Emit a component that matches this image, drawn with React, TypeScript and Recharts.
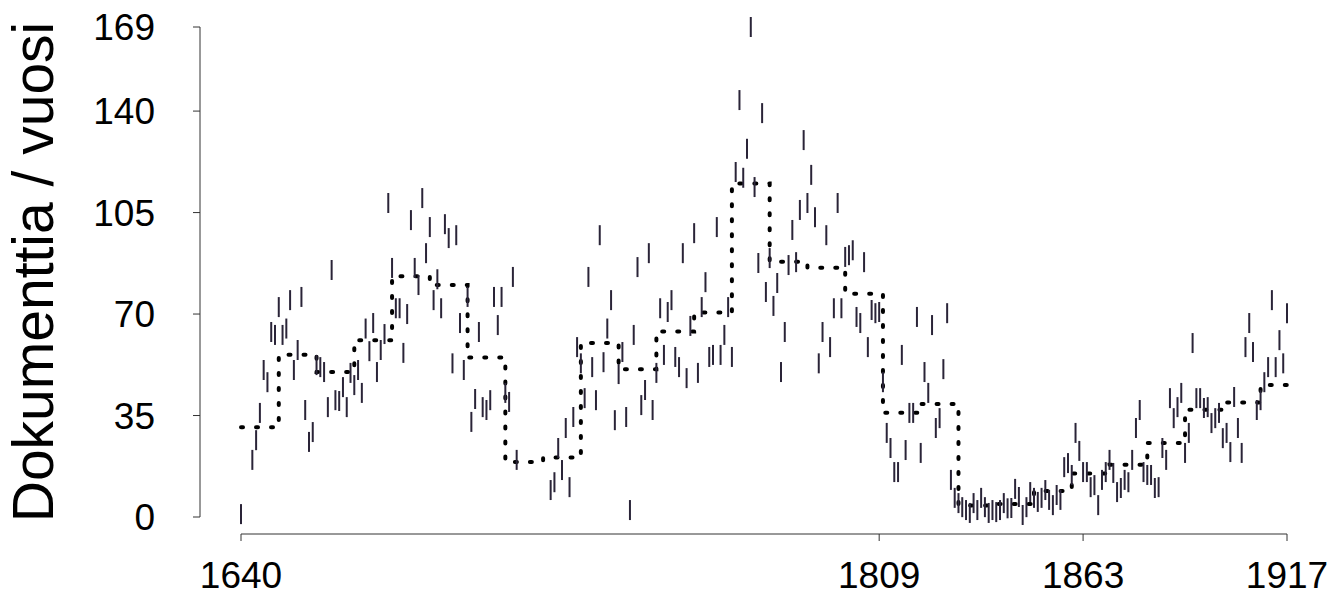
import { ComposedChart, Scatter, Line, XAxis, YAxis, ReferenceLine } from 'recharts'

const FONT = '"Liberation Sans", Arial, sans-serif'

// yearly document counts (one mark per year, some years missing)
const years = [
  1640, 1643, 1644, 1645, 1646, 1647, 1648, 1649, 1650, 1651, 1652, 1653, 1654, 1655, 1656, 1657, 1658, 1659,
  1660, 1661, 1662, 1663, 1664, 1665, 1666, 1667, 1668, 1669, 1670, 1671, 1672, 1673, 1674, 1675, 1676, 1677,
  1678, 1679, 1680, 1681, 1682, 1683, 1684, 1685, 1686, 1687, 1688, 1689, 1690, 1691, 1692, 1693, 1694, 1695,
  1696, 1697, 1698, 1699, 1700, 1701, 1702, 1703, 1704, 1705, 1706, 1707, 1708, 1709, 1710, 1711, 1712, 1713,
  1722, 1723, 1724, 1725, 1726, 1727, 1728, 1729, 1730, 1731, 1732, 1733, 1734, 1735, 1736, 1737, 1738, 1739,
  1740, 1741, 1742, 1743, 1744, 1745, 1746, 1747, 1748, 1749, 1750, 1751, 1752, 1753, 1754, 1755, 1756, 1757,
  1758, 1759, 1760, 1761, 1762, 1763, 1764, 1765, 1766, 1767, 1768, 1769, 1770, 1771, 1772, 1773, 1774, 1775,
  1776, 1777, 1778, 1779, 1780, 1781, 1782, 1783, 1784, 1785, 1786, 1787, 1788, 1789, 1790, 1791, 1792, 1793,
  1794, 1795, 1796, 1797, 1798, 1799, 1800, 1801, 1802, 1803, 1804, 1805, 1806, 1807, 1808, 1809, 1810, 1811,
  1812, 1813, 1814, 1815, 1816, 1817, 1818, 1819, 1820, 1821, 1822, 1823, 1824, 1825, 1826, 1827, 1828, 1829,
  1830, 1831, 1832, 1833, 1834, 1835, 1836, 1837, 1838, 1839, 1840, 1841, 1842, 1843, 1844, 1845, 1846, 1847,
  1848, 1849, 1850, 1851, 1852, 1853, 1854, 1855, 1856, 1857, 1858, 1859, 1860, 1861, 1862, 1863, 1864, 1865,
  1866, 1867, 1868, 1869, 1870, 1871, 1872, 1873, 1874, 1875, 1876, 1877, 1878, 1879, 1880, 1881, 1882, 1883,
  1884, 1885, 1886, 1887, 1888, 1889, 1890, 1891, 1892, 1893, 1894, 1895, 1896, 1897, 1898, 1899, 1900, 1901,
  1902, 1903, 1904, 1905, 1906, 1907, 1908, 1909, 1910, 1911, 1912, 1913, 1914, 1915, 1916, 1917,
]

const docs = [
  1, 19.7, 26.5, 35.9, 50.7, 46.5, 63.8, 62.8, 72.4, 62.8, 65, 74.8, 50.7, 57.6, 75.9, 36.9, 25.9, 29.3,
  52.4, 51.7, 50, 37.9, 85.2, 40.3, 40, 44.8, 37.9, 49.7, 45.5, 50.7, 42.8, 65, 57.2, 66.9, 50, 57.6,
  63.1, 108.3, 85.9, 72, 72, 56.6, 70, 102.4, 85.9, 80, 110, 91, 100, 74.8, 82, 72, 101, 96.2,
  53, 97.2, 66.9, 50.7, 75.9, 32.8, 40.7, 63.8, 37.9, 36.9, 40.3, 75.9, 66.2, 75.9, 42.8, 39.7, 82.8, 19.7,
  9.3, 12, 23.8, 16.2, 30.7, 10.3, 34.5, 58.6, 53, 41, 82.8, 51.7, 40.3, 97.2, 53.4, 65, 74.8, 33.4,
  49.3, 56.9, 34.5, 2.4, 62.8, 86.2, 38.6, 43.8, 91, 36.9, 49.7, 72, 55.9, 70.7, 74.8, 55.2, 51.7, 91,
  47.9, 65.9, 97.9, 49.7, 72.4, 81, 55.2, 55.9, 100, 55.9, 62.8, 72.4, 55.2, 119, 143.8, 117, 127, 169,
  113.8, 87.6, 139.3, 77.6, 89.3, 72.8, 80.7, 50, 63.8, 86.9, 99, 87.9, 105.9, 130, 108.3, 118, 103.4, 53,
  63.8, 97.2, 58.6, 72, 108.3, 72, 89.7, 90.3, 92, 69, 66.9, 87.9, 58.6, 71.4, 70.3, 70.7, 46.5, 29,
  23.8, 15.5, 15.5, 55.9, 23.1, 35.9, 35.9, 69, 22.1, 50, 42.8, 66.2, 30.7, 34.1, 51, 70.3, 12.8, 6.6,
  4.8, 3.4, 2.4, 1.4, 4.8, 2.4, 6.6, 3.4, 1.4, 2.4, 1.7, 2.4, 4.8, 3, 3.1, 9.7, 6.9, 0.7,
  3.4, 8.6, 6.6, 5.2, 6.6, 9.3, 5.9, 4.1, 7.6, 5.9, 17.2, 18.6, 14.5, 29, 22.8, 15.5, 15.5, 10.3,
  11, 4.1, 12.8, 15.5, 19.7, 15.2, 8.6, 10, 12.8, 12, 19.7, 30.7, 36.9, 15.5, 14.5, 14.5, 10, 10.3,
  23.8, 19.7, 41, 34.1, 37.9, 42.8, 22.1, 29, 60, 41, 41, 37.6, 37.9, 32.4, 34.1, 35.9, 27.2, 29,
  22.4, 41.4, 30.7, 22.1, 58.6, 66.9, 56.9, 36.9, 40.3, 46.5, 51.7, 74.8, 51.7, 61, 53, 70.3,
]

// period averages (step line)
const periodStart = [
  1640, 1650, 1660, 1670, 1680, 1690, 1700, 1710, 1720, 1730, 1740, 1750, 1760, 1770, 1780,
  1790, 1800, 1810, 1820, 1830, 1840, 1850, 1860, 1870, 1880, 1890, 1900, 1910, 1917,
]
const periodMean = [
  31, 56, 50, 61, 83, 80, 55, 19, 20.5, 60, 51, 64, 70.5, 115, 88,
  86, 77, 36, 39, 4, 4.5, 9, 15, 18, 25.5, 37, 39.5, 45.5, 45.5,
]

const xTicks = [1640, 1809, 1863, 1917]
const yTicks = [0, 35, 70, 105, 140, 169]

const X_MIN = 1629.14
const Y_MIN = -5.86

const yearData = years.map((year, i) => ({ year, value: docs[i] }))
const stepData = periodStart.map((year, i) => ({ year, value: periodMean[i] }))

function YearMark(props: any) {
  const { cx, cy } = props
  if (cx == null || cy == null) return <g />
  return <line x1={cx} x2={cx} y1={cy - 10} y2={cy + 10} stroke="#2a2438" strokeWidth={2} />
}

function AxisTitle() {
  return (
    <text
      x={53}
      y={272}
      transform="rotate(-90, 53, 272)"
      textAnchor="middle"
      fontSize={57}
      fontFamily={FONT}
      fill="#000"
    >
      Dokumenttia / vuosi
    </text>
  )
}

export default function App() {
  return (
    <div style={{ position: 'absolute', left: 0, top: 0, width: 1341, height: 595, background: '#fff' }}>
      <ComposedChart width={1341} height={595} margin={{ top: 27, right: 54, bottom: 0, left: 0 }}>
        <XAxis
          type="number"
          dataKey="year"
          domain={[X_MIN, 1917]}
          ticks={xTicks}
          height={61}
          axisLine={false}
          tickSize={7}
          tickMargin={21}
          tickLine={{ stroke: '#333' }}
          tick={{ fill: '#000', fontSize: 37, fontFamily: FONT }}
          interval={0}
        />
        <YAxis
          type="number"
          domain={[Y_MIN, 169]}
          ticks={yTicks}
          width={200}
          axisLine={false}
          tickSize={7}
          tickMargin={38}
          tickLine={{ stroke: '#333' }}
          tick={{ fill: '#000', fontSize: 37, fontFamily: FONT }}
          interval={0}
          label={<AxisTitle />}
        />
        <ReferenceLine
          segment={[{ x: 1640, y: Y_MIN }, { x: 1917, y: Y_MIN }]}
          stroke="#333"
          strokeWidth={1}
          ifOverflow="visible"
        />
        <ReferenceLine
          segment={[{ x: X_MIN, y: 0 }, { x: X_MIN, y: 169 }]}
          stroke="#333"
          strokeWidth={1}
          ifOverflow="visible"
        />
        <Scatter data={yearData} dataKey="value" shape={YearMark} isAnimationActive={false} />
        <Line
          data={stepData}
          dataKey="value"
          type="stepAfter"
          stroke="#000"
          strokeWidth={4}
          strokeDasharray="2 13"
          strokeLinecap="round"
          dot={false}
          activeDot={false}
          isAnimationActive={false}
        />
      </ComposedChart>
    </div>
  )
}
